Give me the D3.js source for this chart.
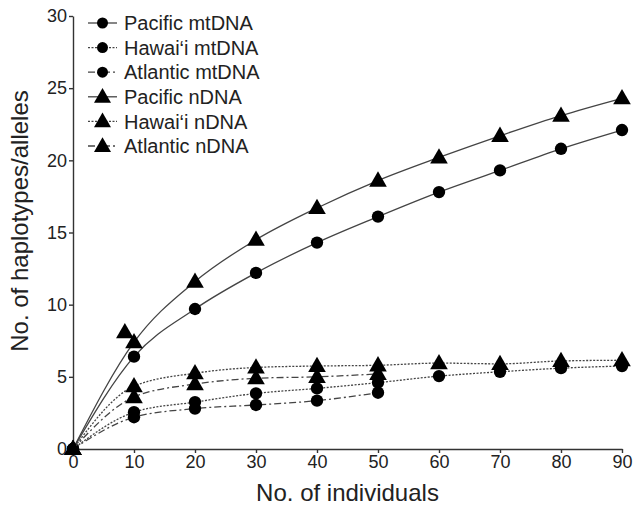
<!DOCTYPE html>
<html>
<head>
<meta charset="utf-8">
<script src="https://cdn.jsdelivr.net/npm/d3@7"></script>
<style>
  body { margin: 0; background: #fff; }
  text { font-family: "Liberation Sans", Arial, sans-serif; fill: #222; }
</style>
</head>
<body>
<div id="graph"></div>
<script>
//******* data
var sampleSizes = [0, 10, 20, 30, 40, 50, 60, 70, 80, 90];
var pacificMt  = [0, 6.4, 9.7, 12.2, 14.3, 16.1, 17.8, 19.3, 20.8, 22.1];
var hawaiiMt   = [0, 2.55, 3.25, 3.85, 4.2, 4.6, 5.05, 5.35, 5.6, 5.75];
var atlanticMt = [0, 2.2, 2.8, 3.05, 3.35, 3.9];
var pacificN   = [0, 7.4, 11.6, 14.5, 16.7, 18.6, 20.2, 21.7, 23.1, 24.3];
var hawaiiN    = [0, 4.35, 5.25, 5.65, 5.75, 5.8, 5.95, 5.9, 6.1, 6.15];
var atlanticN  = [0, 3.6, 4.5, 4.9, 5.0, 5.2];
// lone triangle left of the 10 mark
var strayPoint = [{x: 8.5, y: 8.1}];

var seriesNames = ["Pacific mtDNA", "Hawai\u2018i mtDNA", "Atlantic mtDNA",
                   "Pacific nDNA", "Hawai\u2018i nDNA", "Atlantic nDNA"];
var xTicks = [0, 10, 20, 30, 40, 50, 60, 70, 80, 90];
var yTicks = [0, 5, 10, 15, 20, 25, 30];

//******* layout
var width = 635, height = 507;
var margin = {top: 16, right: 13, bottom: 58, left: 73};

var dashes = {solid: null, dotted: "2,1.5", dashdot: "7,3,2,3"};

var series = [
  {name: seriesNames[0], values: pacificMt,  shape: "circle",   dash: dashes.solid},
  {name: seriesNames[1], values: hawaiiMt,   shape: "circle",   dash: dashes.dotted},
  {name: seriesNames[2], values: atlanticMt, shape: "circle",   dash: dashes.dashdot},
  {name: seriesNames[3], values: pacificN,   shape: "triangle", dash: dashes.solid},
  {name: seriesNames[4], values: hawaiiN,    shape: "triangle", dash: dashes.dotted},
  {name: seriesNames[5], values: atlanticN,  shape: "triangle", dash: dashes.dashdot}
];

var svg = d3.select('#graph')
  .append('svg')
    .attr('width', width)
    .attr('height', height);

var x = d3.scaleLinear().domain([0, 90]).range([margin.left, width - margin.right]);
var y = d3.scaleLinear().domain([0, 30]).range([height - margin.bottom, margin.top]);

var circleSym = d3.symbol().type(d3.symbolCircle).size(120);
var triSym = d3.symbol().type(d3.symbolTriangle).size(135);
var symFor = function(shape) { return shape == "circle" ? circleSym() : triSym(); };

//******* axes
var xAxis = svg.append('g')
    .attr('transform', 'translate(0,' + y(0) + ')')
    .call(d3.axisBottom(x).tickValues(xTicks).tickSize(4).tickPadding(2).tickSizeOuter(0));
var yAxis = svg.append('g')
    .attr('transform', 'translate(' + x(0) + ',0)')
    .call(d3.axisLeft(y).tickValues(yTicks).tickSize(4).tickPadding(2).tickSizeOuter(0));

[xAxis, yAxis].forEach(function(ax) {
  ax.selectAll('path, line').attr('stroke', '#333').attr('stroke-width', 1.4);
  ax.selectAll('text').style('font-size', '18px').attr('fill', '#222');
});

svg.append('text')
    .attr('x', (x(0) + x(90)) / 2)
    .attr('y', 501)
    .attr('text-anchor', 'middle')
    .style('font-size', '24px')
    .text('No. of individuals');

svg.append('text')
    .attr('transform', 'translate(28,221) rotate(-90)')
    .attr('text-anchor', 'middle')
    .style('font-size', '24px')
    .text('No. of haplotypes/alleles');

//******* lines + markers
var line = d3.line()
    .x(function(d, i) { return x(sampleSizes[i]); })
    .y(function(d) { return y(d); })
    .curve(d3.curveMonotoneX);

var groups = svg.selectAll('g.series').data(series).enter()
  .append('g').attr('class', 'series');

groups.append('path')
    .attr('d', function(s) { return line(s.values); })
    .attr('fill', 'none')
    .attr('stroke', '#444')
    .attr('stroke-width', 1.3)
    .attr('stroke-dasharray', function(s) { return s.dash; });

groups.each(function(s) {
  d3.select(this).selectAll('path.mark').data(s.values).enter()
    .append('path')
      .attr('class', 'mark')
      .attr('d', symFor(s.shape))
      .attr('transform', function(d, i) {
        var dy = s.shape == "triangle" ? 1 : 0;
        return 'translate(' + x(sampleSizes[i]) + ',' + (y(d) + dy) + ')';
      })
      .attr('fill', '#000');
});

svg.selectAll('path.stray').data(strayPoint).enter()
  .append('path')
    .attr('class', 'stray')
    .attr('d', triSym())
    .attr('transform', function(d) { return 'translate(' + x(d.x) + ',' + (y(d.y) + 1) + ')'; })
    .attr('fill', '#000');

//******* legend
var legend = svg.append('g').attr('transform', 'translate(88,23)');
var rows = legend.selectAll('g').data(series).enter()
  .append('g')
    .attr('transform', function(d, i) { return 'translate(0,' + (i * 24.6) + ')'; });

rows.append('line')
    .attr('x1', 0).attr('x2', 29)
    .attr('stroke', '#444')
    .attr('stroke-width', 1.3)
    .attr('stroke-dasharray', function(s) { return s.dash; });
rows.append('path')
    .attr('d', function(s) { return s.shape == "circle" ? d3.symbol().type(d3.symbolCircle).size(95)() : d3.symbol().type(d3.symbolTriangle).size(125)(); })
    .attr('transform', function(s) { return 'translate(14.5,' + (s.shape == "triangle" ? 1 : 0) + ')'; })
    .attr('fill', '#000');
rows.append('text')
    .attr('x', 36)
    .attr('dy', '0.36em')
    .style('font-size', '20px')
    .text(function(s) { return s.name; });
</script>
</body>
</html>
